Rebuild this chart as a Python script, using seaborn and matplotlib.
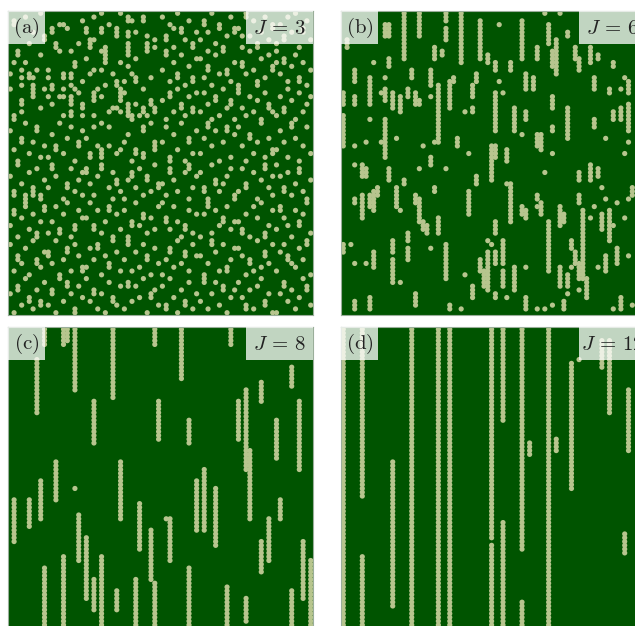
import numpy as np
import pandas as pd
import seaborn as sns
import matplotlib.pyplot as plt
from matplotlib.patches import Rectangle

N = 80
panel_tags = ["(a)", "(b)", "(c)", "(d)"]
J_values = [3, 6, 8, 12]

# occupied sites as vertical runs: (column, first row, last row); row 0 at top
runs_a_top_left = [
    (8, 0, 0), (11, 4, 5), (13, 3, 3), (14, 3, 3), (15, 4, 4), (19, 2, 2), (20, 4, 5), (22, 1, 1),
    (24, 4, 5), (24, 0, 0), (26, 3, 3), (28, 4, 6), (29, 0, 0), (31, 5, 6), (31, 1, 2), (32, 2, 2),
    (33, 5, 5), (35, 1, 2), (36, 6, 6), (38, 7, 7), (12, 8, 9), (13, 10, 10), (16, 10, 10), (18, 8, 8),
    (21, 7, 9), (22, 7, 7), (24, 10, 10), (25, 9, 13), (29, 13, 13), (31, 8, 11), (33, 12, 12),
    (36, 8, 10), (38, 9, 9), (1, 13, 13), (4, 13, 13), (3, 15, 15), (7, 15, 15), (10, 15, 15),
    (22, 15, 15), (24, 15, 15), (31, 14, 14), (0, 16, 16), (3, 17, 17), (5, 16, 17), (6, 17, 17),
    (10, 17, 17), (14, 16, 17), (16, 16, 17), (19, 18, 18), (21, 16, 16), (28, 18, 19), (30, 18, 18),
    (32, 16, 16), (33, 17, 18), (37, 17, 17), (0, 20, 20), (3, 19, 19), (6, 19, 21), (9, 20, 20),
    (11, 19, 20), (14, 20, 20), (16, 19, 19), (17, 20, 20), (18, 21, 21), (23, 20, 20), (29, 20, 23),
    (30, 21, 21), (35, 20, 20), (3, 23, 24), (6, 22, 22), (8, 25, 25), (10, 22, 22), (13, 22, 22),
    (14, 22, 22), (16, 22, 24), (19, 24, 25), (22, 21, 23), (24, 22, 22), (27, 25, 25), (28, 25, 25),
    (31, 24, 25), (33, 24, 24), (35, 25, 25), (37, 23, 23), (38, 25, 25), (31, 26, 27), (32, 27, 28),
    (34, 27, 27), (35, 26, 26), (37, 24, 24), (36, 27, 27), (3, 26, 26), (14, 27, 27), (16, 26, 27),
    (19, 27, 27), (22, 27, 27), (26, 26, 26), (29, 26, 26), (38, 26, 26), (1, 2, 3), (5, 8, 8),
    (2, 10, 11), (8, 11, 11), (6, 5, 5), (4, 1, 1), (9, 6, 7), (17, 13, 14), (20, 12, 12), (27, 16, 16),
    (11, 24, 24), (1, 27, 28), (25, 19, 19),
]

runs_a_top_right = [
    (40, 1, 1), (41, 6, 7), (42, 3, 3), (43, 9, 9), (44, 0, 0), (45, 4, 5), (46, 7, 7), (47, 2, 2),
    (48, 8, 9), (49, 5, 5), (50, 7, 7), (51, 2, 3), (52, 5, 5), (53, 0, 0), (54, 8, 8), (55, 3, 4),
    (56, 9, 9), (57, 6, 6), (58, 1, 1), (59, 4, 5), (60, 4, 4), (61, 9, 9), (62, 0, 1), (63, 6, 6),
    (64, 2, 2), (65, 8, 9), (66, 5, 5), (67, 1, 1), (68, 7, 7), (69, 3, 4), (70, 8, 8), (71, 3, 3),
    (72, 6, 7), (73, 1, 1), (74, 5, 5), (75, 0, 0), (76, 9, 9), (77, 4, 5), (78, 2, 2), (79, 7, 7),
    (40, 15, 15), (41, 10, 11), (42, 18, 18), (43, 13, 13), (44, 16, 17), (45, 11, 11), (46, 19, 19),
    (47, 14, 14), (48, 17, 18), (49, 12, 12), (50, 12, 12), (51, 17, 17), (52, 14, 15), (53, 19, 19),
    (54, 11, 11), (55, 16, 16), (56, 10, 10), (57, 15, 16), (58, 18, 18), (59, 13, 13), (60, 19, 19),
    (61, 13, 14), (62, 16, 16), (63, 10, 10), (64, 15, 15), (65, 18, 19), (66, 12, 12), (67, 17, 17),
    (68, 11, 11), (69, 14, 15), (70, 10, 10), (71, 16, 16), (72, 12, 13), (73, 18, 18), (74, 14, 14),
    (75, 11, 11), (76, 17, 18), (77, 13, 13), (78, 19, 19), (79, 15, 15), (40, 23, 23), (41, 28, 28),
    (42, 21, 22), (43, 26, 26), (44, 20, 20), (45, 24, 25), (46, 27, 27), (47, 22, 22), (48, 25, 26),
    (49, 21, 21), (50, 26, 26), (51, 21, 21), (52, 24, 24), (53, 28, 28), (54, 22, 23), (55, 27, 27),
    (56, 20, 20), (57, 25, 25), (58, 23, 24), (59, 28, 28), (60, 20, 21), (61, 25, 25), (62, 27, 27),
    (63, 22, 22), (64, 26, 26), (65, 23, 23), (66, 28, 28), (67, 21, 21), (68, 24, 25), (69, 26, 26),
    (70, 27, 27), (71, 22, 22), (72, 25, 26), (73, 20, 20), (74, 23, 23), (75, 28, 28), (76, 21, 21),
    (77, 26, 26), (78, 24, 24), (79, 22, 22), (43, 4, 4), (61, 6, 6), (52, 10, 10), (70, 13, 13),
]

runs_a_middle = [
    (0, 31, 31), (1, 36, 36), (2, 39, 39), (3, 33, 34), (4, 29, 29), (5, 37, 37), (6, 34, 34), (7, 30, 31),
    (8, 38, 38), (9, 35, 35), (10, 38, 38), (11, 32, 32), (12, 35, 36), (13, 29, 29), (14, 37, 37),
    (15, 33, 33), (16, 30, 30), (17, 39, 39), (18, 34, 35), (19, 31, 31), (20, 33, 33), (21, 37, 38),
    (22, 30, 30), (23, 35, 35), (24, 29, 29), (26, 30, 30), (31, 32, 32), (35, 30, 31), (26, 35, 35),
    (30, 34, 34), (29, 36, 36), (28, 37, 37), (33, 36, 37), (38, 34, 36), (24, 36, 38), (35, 37, 38),
    (37, 29, 29), (32, 39, 39), (40, 34, 34), (41, 30, 30), (42, 38, 39), (43, 32, 32), (44, 36, 36),
    (45, 29, 29), (46, 39, 39), (47, 33, 34), (48, 37, 37), (49, 31, 31), (50, 37, 37), (51, 33, 33),
    (52, 29, 30), (53, 35, 35), (54, 31, 31), (55, 39, 39), (56, 34, 34), (57, 30, 31), (58, 38, 38),
    (59, 32, 32), (60, 30, 30), (61, 35, 35), (62, 39, 39), (63, 32, 33), (64, 37, 37), (65, 34, 34),
    (66, 29, 29), (67, 38, 38), (68, 33, 33), (69, 36, 37), (70, 36, 36), (71, 31, 31), (72, 34, 34),
    (73, 38, 38), (74, 29, 30), (75, 33, 33), (76, 39, 39), (77, 35, 35), (78, 30, 30), (79, 37, 37),
    (0, 43, 43), (1, 47, 48), (2, 40, 40), (3, 45, 45), (4, 48, 49), (5, 42, 42), (6, 46, 48), (7, 41, 41),
    (8, 48, 49), (9, 44, 44), (10, 46, 46), (11, 40, 41), (12, 43, 43), (14, 49, 49), (15, 45, 46),
    (16, 41, 41), (17, 47, 47), (18, 44, 44), (19, 48, 48), (19, 42, 42), (20, 41, 42), (21, 45, 45),
    (22, 48, 48), (23, 43, 43), (24, 40, 41), (26, 46, 46), (27, 49, 49), (27, 42, 42), (28, 44, 45),
    (29, 47, 47), (30, 49, 49), (31, 44, 44), (32, 42, 43), (33, 46, 46), (34, 41, 41), (35, 48, 48),
    (36, 43, 44), (37, 47, 47), (38, 40, 40), (39, 45, 46), (40, 45, 45), (41, 48, 48), (42, 41, 42),
    (43, 44, 44), (44, 47, 47), (46, 42, 42), (47, 49, 49), (47, 40, 41), (48, 46, 46), (49, 43, 43),
    (50, 42, 42), (51, 46, 47), (52, 49, 49), (53, 40, 40), (54, 44, 45), (55, 47, 47), (56, 45, 45),
    (57, 43, 43), (58, 41, 41), (59, 48, 49), (60, 47, 47), (61, 41, 41), (62, 45, 46), (64, 42, 42),
    (65, 49, 49), (66, 44, 44), (67, 40, 41), (68, 46, 46), (69, 43, 43), (69, 48, 48), (70, 40, 40),
    (71, 43, 43), (72, 46, 47), (73, 42, 42), (74, 48, 48), (75, 45, 45), (76, 41, 42), (77, 47, 47),
    (78, 49, 49), (79, 44, 44),
]

runs_a_bottom = [
    (0, 56, 56), (1, 52, 53), (2, 59, 59), (3, 54, 54), (4, 50, 51), (5, 57, 57), (6, 53, 53), (7, 58, 59),
    (8, 55, 55), (9, 51, 52), (10, 58, 58), (11, 55, 55), (12, 51, 51), (13, 57, 58), (14, 53, 53),
    (15, 50, 50), (16, 59, 59), (17, 56, 57), (18, 52, 52), (19, 54, 54), (20, 54, 54), (21, 50, 50),
    (22, 56, 57), (23, 52, 52), (24, 58, 58), (25, 55, 55), (26, 51, 52), (27, 59, 59), (28, 53, 53),
    (29, 57, 57), (30, 52, 52), (31, 59, 59), (32, 55, 56), (33, 50, 50), (34, 56, 56), (35, 53, 54),
    (36, 58, 58), (37, 54, 54), (38, 57, 57), (39, 51, 51), (40, 50, 50), (41, 54, 55), (42, 57, 57),
    (43, 51, 51), (44, 55, 55), (45, 59, 59), (46, 56, 57), (47, 52, 52), (48, 58, 58), (49, 53, 53),
    (50, 59, 59), (51, 53, 53), (52, 50, 51), (53, 58, 58), (54, 52, 52), (55, 56, 56), (56, 54, 55),
    (57, 51, 51), (58, 57, 57), (59, 55, 55), (60, 55, 55), (61, 57, 58), (62, 53, 53), (63, 59, 59),
    (64, 51, 51), (65, 54, 54), (66, 50, 50), (67, 58, 59), (68, 56, 56), (69, 52, 52), (70, 57, 57),
    (71, 51, 52), (72, 54, 54), (73, 56, 56), (74, 59, 59), (75, 52, 52), (76, 55, 56), (77, 53, 53),
    (78, 50, 50), (79, 58, 58), (0, 61, 61), (1, 68, 68), (2, 64, 65), (3, 66, 66), (4, 62, 62),
    (5, 69, 69), (6, 60, 60), (7, 65, 66), (8, 67, 67), (9, 63, 63), (10, 63, 64), (11, 66, 66),
    (12, 60, 60), (13, 69, 69), (14, 65, 65), (15, 62, 63), (16, 68, 68), (17, 61, 61), (18, 64, 64),
    (19, 67, 68), (20, 67, 67), (21, 62, 62), (22, 65, 65), (23, 61, 62), (24, 69, 69), (25, 64, 64),
    (26, 66, 67), (27, 60, 60), (28, 63, 63), (29, 68, 68), (30, 65, 65), (31, 60, 61), (32, 68, 68),
    (33, 63, 63), (34, 67, 67), (35, 61, 61), (36, 64, 65), (37, 69, 69), (38, 62, 62), (39, 66, 66),
    (40, 69, 69), (41, 65, 65), (42, 62, 63), (43, 67, 67), (44, 60, 60), (45, 66, 66), (46, 63, 64),
    (47, 68, 68), (48, 61, 61), (49, 64, 64), (50, 64, 64), (51, 69, 69), (52, 66, 66), (53, 60, 61),
    (54, 63, 63), (55, 68, 68), (56, 61, 61), (57, 67, 68), (58, 65, 65), (59, 62, 62), (60, 62, 62),
    (61, 64, 64), (62, 69, 69), (63, 65, 66), (64, 68, 68), (65, 60, 60), (66, 67, 67), (67, 63, 64),
    (68, 66, 66), (69, 61, 61), (70, 68, 68), (71, 63, 63), (72, 61, 61), (73, 64, 65), (74, 66, 66),
    (75, 67, 67), (76, 62, 62), (77, 65, 65), (78, 60, 61), (79, 69, 69), (0, 74, 74), (1, 79, 79),
    (2, 72, 73), (3, 77, 77), (4, 70, 70), (5, 75, 76), (6, 78, 78), (7, 73, 73), (8, 76, 77), (9, 71, 71),
    (10, 77, 77), (11, 73, 74), (12, 79, 79), (13, 70, 70), (14, 76, 76), (15, 71, 72), (16, 74, 74),
    (17, 78, 79), (18, 72, 72), (19, 75, 75), (20, 70, 70), (21, 76, 76), (22, 73, 74), (23, 78, 78),
    (24, 74, 74), (25, 79, 79), (26, 71, 71), (27, 75, 76), (28, 77, 77), (29, 72, 72), (30, 78, 78),
    (31, 71, 72), (32, 76, 76), (33, 72, 72), (34, 75, 75), (35, 70, 70), (36, 79, 79), (37, 74, 75),
    (38, 73, 73), (39, 77, 77), (40, 72, 72), (41, 77, 78), (42, 70, 70), (43, 75, 75), (44, 79, 79),
    (45, 73, 73), (46, 76, 77), (47, 71, 71), (48, 78, 78), (49, 74, 74), (50, 76, 76), (51, 70, 71),
    (52, 78, 78), (53, 74, 74), (54, 71, 71), (55, 77, 77), (56, 72, 73), (57, 79, 79), (58, 75, 75),
    (59, 73, 73), (60, 71, 71), (61, 75, 75), (62, 77, 78), (63, 73, 73), (64, 78, 78), (65, 72, 72),
    (66, 70, 70), (67, 76, 77), (68, 74, 74), (69, 79, 79), (70, 79, 79), (71, 74, 74), (72, 71, 72),
    (73, 76, 76), (74, 73, 73), (75, 78, 78), (76, 75, 75), (77, 70, 70), (78, 72, 73), (79, 77, 77),
]

runs_a = runs_a_top_left + runs_a_top_right + runs_a_middle + runs_a_bottom

runs_b = [
    (11, 3, 6), (12, 3, 6), (16, 0, 12), (20, 0, 6), (24, 9, 12), (27, 0, 2), (27, 4, 7), (31, 0, 13),
    (36, 2, 12), (41, 3, 3), (47, 2, 12), (51, 9, 12), (53, 0, 0), (54, 3, 8), (57, 0, 0), (59, 5, 6),
    (56, 7, 16), (55, 10, 14), (61, 9, 12), (62, 12, 15), (65, 9, 13), (66, 17, 20), (67, 11, 12),
    (71, 13, 14), (8, 13, 13), (12, 12, 14), (3, 15, 18), (7, 17, 24), (11, 17, 17), (18, 15, 17),
    (23, 15, 19), (29, 17, 18), (35, 16, 18), (38, 11, 13), (40, 13, 15), (44, 13, 15), (48, 16, 20),
    (50, 17, 20), (41, 18, 18), (0, 21, 24), (3, 22, 24), (10, 21, 21), (11, 20, 23), (13, 21, 25),
    (15, 22, 26), (17, 20, 22), (19, 21, 24), (20, 23, 24), (23, 22, 22), (25, 19, 34), (28, 18, 25),
    (34, 19, 22), (40, 21, 31), (42, 21, 21), (45, 25, 31), (34, 25, 26), (32, 26, 26), (48, 26, 28),
    (55, 22, 25), (59, 25, 33), (66, 28, 30), (70, 20, 21), (73, 20, 20), (75, 18, 21), (71, 26, 28),
    (73, 25, 28), (75, 24, 31), (0, 27, 35), (7, 28, 28), (11, 28, 38), (10, 34, 34), (6, 34, 34),
    (3, 35, 35), (14, 33, 33), (21, 35, 35), (24, 34, 34), (30, 33, 35), (39, 35, 44), (40, 35, 38),
    (43, 36, 39), (47, 32, 32), (51, 32, 35), (52, 32, 36), (55, 30, 31), (55, 37, 37), (69, 33, 33),
    (75, 34, 34), (74, 37, 37), (23, 38, 40), (33, 37, 37), (3, 40, 40), (5, 40, 43), (6, 41, 43),
    (12, 41, 44), (16, 44, 45), (20, 41, 41), (27, 41, 41), (35, 43, 45), (53, 42, 42), (62, 42, 44),
    (65, 40, 44), (67, 41, 43), (76, 46, 48), (3, 49, 50), (5, 48, 54), (7, 48, 51), (8, 47, 52),
    (9, 46, 48), (14, 46, 51), (15, 52, 52), (19, 48, 50), (20, 49, 55), (21, 55, 57), (22, 56, 58),
    (24, 46, 47), (25, 54, 55), (25, 56, 58), (33, 47, 53), (43, 45, 45), (44, 45, 55), (47, 51, 53),
    (48, 52, 54), (51, 48, 49), (51, 51, 51), (52, 50, 53), (57, 51, 56), (58, 53, 55), (62, 48, 50),
    (63, 52, 70), (66, 51, 51), (68, 46, 46), (69, 49, 49), (70, 52, 60), (72, 50, 50), (75, 49, 49),
    (74, 54, 54), (65, 54, 54), (68, 53, 57), (71, 56, 56), (2, 61, 61), (0, 61, 63), (3, 66, 66),
    (6, 66, 66), (8, 63, 67), (13, 60, 63), (13, 65, 71), (17, 58, 60), (17, 62, 65), (15, 71, 71),
    (23, 62, 62), (27, 61, 70), (38, 60, 60), (39, 61, 61), (40, 55, 58), (36, 65, 68), (38, 63, 73),
    (37, 68, 72), (40, 63, 66), (42, 60, 66), (42, 68, 72), (45, 67, 73), (48, 67, 67), (32, 69, 69),
    (54, 55, 68), (57, 67, 72), (59, 69, 72), (60, 60, 62), (60, 67, 67), (61, 63, 66), (62, 66, 70),
    (64, 70, 75), (67, 67, 67), (69, 64, 68), (72, 62, 66), (75, 64, 64), (3, 76, 78), (7, 75, 78),
    (19, 74, 77), (28, 77, 78), (31, 78, 78), (34, 72, 75), (40, 74, 75), (43, 75, 75), (48, 75, 78),
    (51, 78, 78), (53, 78, 78), (55, 77, 77), (58, 76, 78), (59, 74, 74), (62, 73, 73), (71, 78, 78),
    (73, 75, 78), (76, 77, 77), (74, 17, 17), (26, 10, 11), (1, 7, 9),
]

runs_c = [
    (7, 8, 22), (9, 0, 4), (14, 0, 4), (15, 0, 3), (17, 0, 16), (22, 19, 30), (27, 0, 18), (29, 35, 50),
    (34, 46, 58), (33, 66, 79), (38, 0, 4), (39, 19, 29), (45, 0, 13), (47, 24, 30), (51, 37, 53),
    (54, 42, 57), (58, 0, 4), (60, 19, 29), (62, 16, 37), (63, 32, 50), (66, 14, 19), (70, 24, 34),
    (74, 10, 15), (76, 19, 37), (77, 56, 71), (79, 61, 79), (1, 45, 56), (5, 45, 52), (8, 40, 50),
    (9, 63, 79), (12, 35, 45), (14, 60, 79), (17, 42, 42), (18, 49, 61), (20, 55, 71), (22, 66, 74),
    (24, 60, 79), (37, 53, 66), (38, 67, 79), (41, 50, 50), (42, 50, 61), (47, 63, 79), (49, 40, 53),
    (57, 68, 79), (62, 71, 77), (66, 56, 64), (68, 50, 61), (71, 45, 50), (28, 69, 74), (74, 69, 79),
]

runs_d = [
    (0, 0, 79), (5, 0, 44), (5, 60, 79), (13, 35, 73), (18, 0, 79), (25, 0, 79), (28, 0, 79),
    (39, 0, 55), (39, 57, 79), (42, 0, 24), (42, 51, 79), (47, 0, 58), (47, 72, 79), (49, 30, 33),
    (54, 0, 79), (56, 29, 32), (60, 9, 42), (62, 8, 8), (68, 3, 10), (70, 3, 22), (74, 54, 59),
    (75, 16, 32),
]


def sites(runs):
    xs, ys = [], []
    for c, r0, r1 in runs:
        for r in range(r0, r1 + 1):
            xs.append(c)
            ys.append(r)
    return pd.DataFrame({"col": xs, "row": ys}).drop_duplicates()


all_runs = [runs_a, runs_b, runs_c, runs_d]

BG = "#005400"
DOT = "#b7c58e"

fig = plt.figure(figsize=(6.35, 6.26), dpi=100)
plt.rcParams["mathtext.fontset"] = "cm"
W, H = 305 / 635, 304 / 626
positions = [
    [8 / 635, (626 - 315) / 626, W, H],
    [341 / 635, (626 - 315) / 626, W, H],
    [8 / 635, (626 - 631) / 626, W, H],
    [341 / 635, (626 - 631) / 626, W, H],
]

for i in range(4):
    ax = fig.add_axes(positions[i])
    ax.set_facecolor(BG)
    df = sites(all_runs[i])
    sns.scatterplot(data=df, x="col", y="row", ax=ax, color=DOT, s=14,
                    edgecolor="none", linewidth=0, legend=False, zorder=2)
    ax.set_xlim(-0.6, N - 0.4)
    ax.set_ylim(N - 0.4, -0.6)
    ax.set_xticks([])
    ax.set_yticks([])
    ax.set_xlabel("")
    ax.set_ylabel("")
    for sp in ax.spines.values():
        sp.set_color("#9aae9a")
        sp.set_linewidth(0.8)
    bw, bh = 37 / 305, 33 / 304
    ax.add_patch(Rectangle((0, 1 - bh), bw, bh, transform=ax.transAxes,
                           facecolor="white", alpha=0.76, edgecolor="none", zorder=5))
    ax.text(bw / 2, 1 - bh / 2, r"$\mathrm{" + panel_tags[i] + "}$", transform=ax.transAxes,
            ha="center", va="center", fontsize=15, color="#222222", zorder=6)
    jw = 67 / 305
    ax.add_patch(Rectangle((1 - jw, 1 - bh), jw, bh, transform=ax.transAxes,
                           facecolor="white", alpha=0.76, edgecolor="none", zorder=5))
    ax.text(1 - jw / 2, 1 - bh / 2, r"$J\,=\,%d$" % J_values[i], transform=ax.transAxes,
            ha="center", va="center", fontsize=15, color="#222222", zorder=6)

fig.savefig("out.png", dpi=100)
